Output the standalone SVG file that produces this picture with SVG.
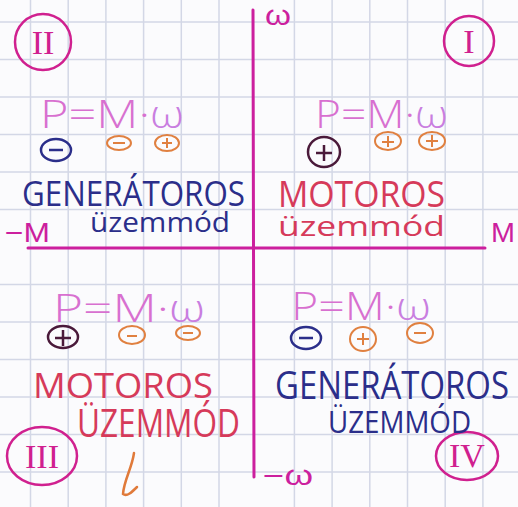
<svg xmlns="http://www.w3.org/2000/svg" width="518" height="507" viewBox="0 0 518 507">
<defs>
<style>
.grid line{stroke:#d3d7e6;stroke-width:1.5}
.axis{stroke:#cc1f9e;stroke-width:3;fill:none;stroke-linecap:round}
.ax{font-family:"Liberation Sans",sans-serif;fill:#cc1f9e;font-size:27px}
.rom{fill:none;stroke:#d0208f;stroke-width:2.5}
.romt{font-family:"Liberation Serif",serif;fill:#d0208f;font-size:34px;text-anchor:middle}
.eq{font-family:"Open Sans","Liberation Sans",sans-serif;font-weight:300;fill:#d870d0;font-size:38px}
.om{fill:#c97ee0}
.blue{font-family:"Open Sans","Liberation Sans",sans-serif;font-weight:400;fill:#2b2e8a}
.red{font-family:"Open Sans","Liberation Sans",sans-serif;font-weight:400;fill:#d63a5a}
.sgO{fill:none;stroke:#e08040;stroke-width:2}
.sgB{fill:none;stroke:#2b2e8a;stroke-width:2.5}
.sgD{fill:none;stroke:#4a1a3a;stroke-width:2.5}
</style>
</defs>
<rect width="518" height="507" fill="#fbfbfd"/>
<g class="grid">
<line x1="30.5" y1="0" x2="30.5" y2="507"/>
<line x1="68.2" y1="0" x2="68.2" y2="507"/>
<line x1="105.9" y1="0" x2="105.9" y2="507"/>
<line x1="143.6" y1="0" x2="143.6" y2="507"/>
<line x1="181.3" y1="0" x2="181.3" y2="507"/>
<line x1="219" y1="0" x2="219" y2="507"/>
<line x1="294.4" y1="0" x2="294.4" y2="507"/>
<line x1="332.1" y1="0" x2="332.1" y2="507"/>
<line x1="369.8" y1="0" x2="369.8" y2="507"/>
<line x1="407.5" y1="0" x2="407.5" y2="507"/>
<line x1="445.2" y1="0" x2="445.2" y2="507"/>
<line x1="482.9" y1="0" x2="482.9" y2="507"/>
<line x1="0" y1="22" x2="518" y2="22"/>
<line x1="0" y1="59.5" x2="518" y2="59.5"/>
<line x1="0" y1="97" x2="518" y2="97"/>
<line x1="0" y1="134.5" x2="518" y2="134.5"/>
<line x1="0" y1="172" x2="518" y2="172"/>
<line x1="0" y1="209.5" x2="518" y2="209.5"/>
<line x1="0" y1="284.5" x2="518" y2="284.5"/>
<line x1="0" y1="322" x2="518" y2="322"/>
<line x1="0" y1="359.5" x2="518" y2="359.5"/>
<line x1="0" y1="397" x2="518" y2="397"/>
<line x1="0" y1="434.5" x2="518" y2="434.5"/>
<line x1="0" y1="472" x2="518" y2="472"/>
</g>
<g id="axes">
<line class="axis" x1="253" y1="10" x2="254" y2="477"/>
<line class="axis" x1="28" y1="248" x2="485" y2="248"/>
<text class="ax" x="265" y="25" textLength="26" lengthAdjust="spacingAndGlyphs">ω</text>
<text class="ax" x="491" y="242" textLength="24" lengthAdjust="spacingAndGlyphs">M</text>
<text class="ax" x="5" y="242" textLength="45" lengthAdjust="spacingAndGlyphs">−M</text>
<text class="ax" x="263" y="485" textLength="50" lengthAdjust="spacingAndGlyphs">−ω</text>
</g>
<g id="q2">
<circle class="rom" cx="43" cy="42" r="28"/>
<text class="romt" x="43" y="54">II</text>
<text class="eq" x="40" y="128" textLength="110" lengthAdjust="spacingAndGlyphs">P=M·</text>
<text class="eq om" x="150" y="128" font-size="44" textLength="34" lengthAdjust="spacingAndGlyphs">ω</text>
<ellipse class="sgB" cx="56" cy="150" rx="15" ry="11"/><line class="sgB" x1="49" y1="150" x2="63" y2="150"/>
<ellipse class="sgO" cx="119" cy="143" rx="12" ry="7"/><line class="sgO" x1="113" y1="143" x2="125" y2="143"/>
<ellipse class="sgO" cx="167" cy="143" rx="12" ry="8"/><line class="sgO" x1="162" y1="143" x2="172" y2="143"/><line class="sgO" x1="167" y1="138" x2="167" y2="148"/>
<text class="blue" x="22" y="206" font-size="35" textLength="223" lengthAdjust="spacingAndGlyphs">GENERÁTOROS</text>
<text class="blue" x="90" y="232" font-size="27" textLength="140" lengthAdjust="spacingAndGlyphs">üzemmód</text>
</g>
<g id="q1">
<circle class="rom" cx="469" cy="41" r="25"/>
<text class="romt" x="469" y="53">I</text>
<text class="eq" x="315" y="128" textLength="100" lengthAdjust="spacingAndGlyphs">P=M·</text>
<text class="eq om" x="415" y="128" font-size="44" textLength="33" lengthAdjust="spacingAndGlyphs">ω</text>
<ellipse class="sgD" cx="324" cy="152" rx="16" ry="15"/><line class="sgD" x1="316" y1="153" x2="332" y2="153"/><line class="sgD" x1="324" y1="145" x2="324" y2="161"/>
<ellipse class="sgO" cx="388" cy="141" rx="13" ry="9"/><line class="sgO" x1="382" y1="142" x2="394" y2="142"/><line class="sgO" x1="388" y1="136" x2="388" y2="147"/>
<ellipse class="sgO" cx="432" cy="141" rx="13" ry="9"/><line class="sgO" x1="426" y1="141" x2="438" y2="141"/><line class="sgO" x1="432" y1="135" x2="432" y2="147"/>
<text class="red" x="278" y="207" font-size="36" textLength="167" lengthAdjust="spacingAndGlyphs">MOTOROS</text>
<text class="red" x="278" y="236" font-size="27" textLength="167" lengthAdjust="spacingAndGlyphs">üzemmód</text>
</g>
<g id="q3">
<ellipse class="rom" cx="42" cy="456" rx="35" ry="29"/>
<text class="romt" x="42" y="468" font-size="32">III</text>
<text class="eq" x="53" y="322" textLength="116" lengthAdjust="spacingAndGlyphs">P=M·</text>
<text class="eq om" x="169" y="322" font-size="44" textLength="36" lengthAdjust="spacingAndGlyphs">ω</text>
<ellipse class="sgD" cx="63" cy="337" rx="15" ry="11"/><line class="sgD" x1="55" y1="338" x2="71" y2="338"/><line class="sgD" x1="63" y1="330" x2="63" y2="346"/>
<ellipse class="sgO" cx="132" cy="335" rx="13" ry="9"/><line class="sgO" x1="127" y1="336" x2="137" y2="336"/>
<ellipse class="sgO" cx="188" cy="333" rx="12" ry="7"/><line class="sgO" x1="183" y1="333" x2="193" y2="333"/>
<text class="red" x="33" y="398" font-size="34" textLength="180" lengthAdjust="spacingAndGlyphs">MOTOROS</text>
<text class="red" x="77" y="437" font-size="38" textLength="163" lengthAdjust="spacingAndGlyphs">ÜZEMMÓD</text>
<path d="M134 453 C132 468 124 480 123 494 C127 497 132 492 137 487" fill="none" stroke="#e07a3a" stroke-width="2.5" stroke-linecap="round"/>
</g>
<g id="q4">
<ellipse class="rom" cx="467" cy="456" rx="31" ry="24"/>
<text class="romt" x="467" y="467" font-size="30">IV</text>
<text class="eq" x="291" y="320" textLength="105" lengthAdjust="spacingAndGlyphs">P=M·</text>
<text class="eq om" x="396" y="320" font-size="44" textLength="35" lengthAdjust="spacingAndGlyphs">ω</text>
<ellipse class="sgB" cx="306" cy="338" rx="15" ry="11"/><line class="sgB" x1="299" y1="338" x2="313" y2="338"/>
<ellipse class="sgO" cx="363" cy="339" rx="13" ry="12"/><line class="sgO" x1="357" y1="339" x2="369" y2="339"/><line class="sgO" x1="363" y1="333" x2="363" y2="345"/>
<ellipse class="sgO" cx="420" cy="333" rx="13" ry="10"/><line class="sgO" x1="414" y1="333" x2="426" y2="333"/>
<text class="blue" transform="translate(275 399) scale(1 1.22)" x="0" y="0" font-size="32" textLength="234" lengthAdjust="spacingAndGlyphs">GENERÁTOROS</text>
<text class="blue" x="328" y="433" font-size="31" textLength="143" lengthAdjust="spacingAndGlyphs">ÜZEMMÓD</text>
</g>
</svg>
